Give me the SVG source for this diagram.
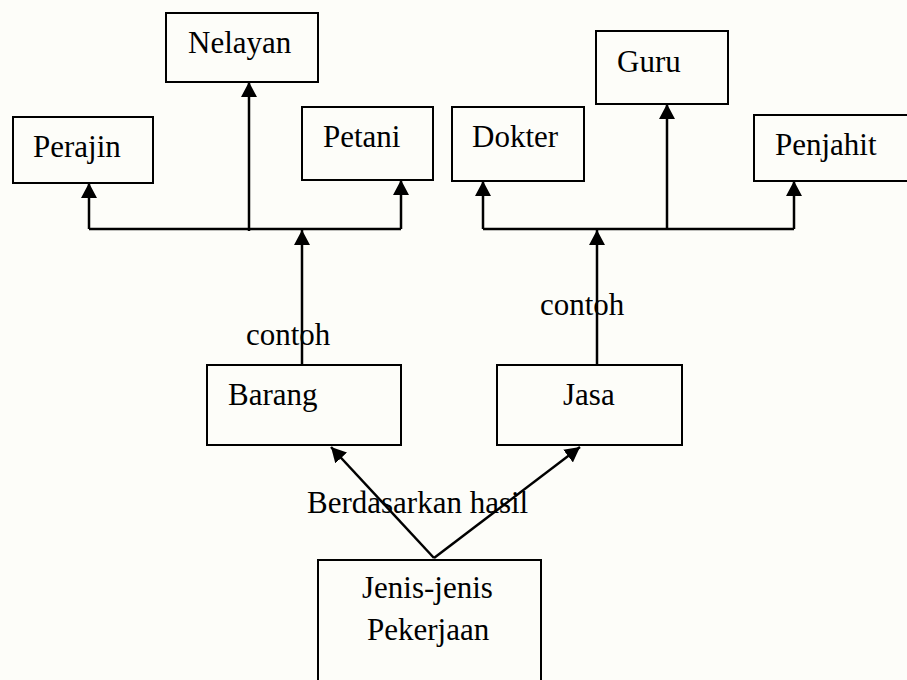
<svg xmlns="http://www.w3.org/2000/svg" width="907" height="680" viewBox="0 0 907 680">
<defs>
<marker id="ah" viewBox="0 0 15 16" refX="15" refY="8" markerWidth="15" markerHeight="16" markerUnits="userSpaceOnUse" orient="auto">
<path d="M0,0 L15,8 L0,16 Z" fill="#000"/>
</marker>
<style>
.box{fill:none;stroke:#000;stroke-width:2}
.c{fill:none;stroke:#000;stroke-width:2.5}
.a{fill:none;stroke:#000;stroke-width:2.5;marker-end:url(#ah)}
</style>
</defs>
<rect width="907" height="680" fill="#fdfdf9"/>
<g id="connectors">
<polyline class="c" points="89,229 401,229"/>
<line class="a" x1="89" y1="229" x2="89" y2="183"/>
<line class="a" x1="401" y1="229" x2="401" y2="180"/>
<line class="a" x1="249" y1="231" x2="249" y2="82"/>
<line class="a" x1="302" y1="365" x2="302" y2="230"/>
<polyline class="c" points="483,229 794,229"/>
<line class="a" x1="483" y1="229" x2="483" y2="181"/>
<line class="a" x1="794" y1="229" x2="794" y2="181"/>
<line class="a" x1="667" y1="229" x2="667" y2="104"/>
<line class="a" x1="597" y1="365" x2="597" y2="230"/>
<line class="a" x1="434" y1="558" x2="331" y2="447"/>
<line class="a" x1="434" y1="558" x2="580" y2="447"/>
</g>
<g font-family="Liberation Serif, Times New Roman, serif" font-size="31" fill="#000">
<g id="labels">
<text x="246" y="345">contoh</text>
<text x="540" y="315">contoh</text>
<text x="307" y="513">Berdasarkan hasil</text>
</g>
<g id="perajin"><rect class="box" x="13" y="117" width="140" height="66"/><text x="33" y="157">Perajin</text></g>
<g id="nelayan"><rect class="box" x="166" y="13" width="152" height="69"/><text x="188" y="53">Nelayan</text></g>
<g id="petani"><rect class="box" x="302" y="107" width="131" height="73"/><text x="323" y="147">Petani</text></g>
<g id="dokter"><rect class="box" x="452" y="107" width="132" height="74"/><text x="472" y="147">Dokter</text></g>
<g id="guru"><rect class="box" x="596" y="31" width="132" height="73"/><text x="617" y="72">Guru</text></g>
<g id="penjahit"><rect class="box" x="754" y="115" width="160" height="66"/><text x="775" y="155">Penjahit</text></g>
<g id="barang"><rect class="box" x="207" y="365" width="194" height="80"/><text x="228" y="405">Barang</text></g>
<g id="jasa"><rect class="box" x="497" y="365" width="185" height="80"/><text x="563" y="405">Jasa</text></g>
<g id="jenis"><rect class="box" x="318" y="560" width="223" height="140"/><text x="362" y="598">Jenis-jenis</text><text x="367" y="640">Pekerjaan</text></g>
</g>
</svg>
